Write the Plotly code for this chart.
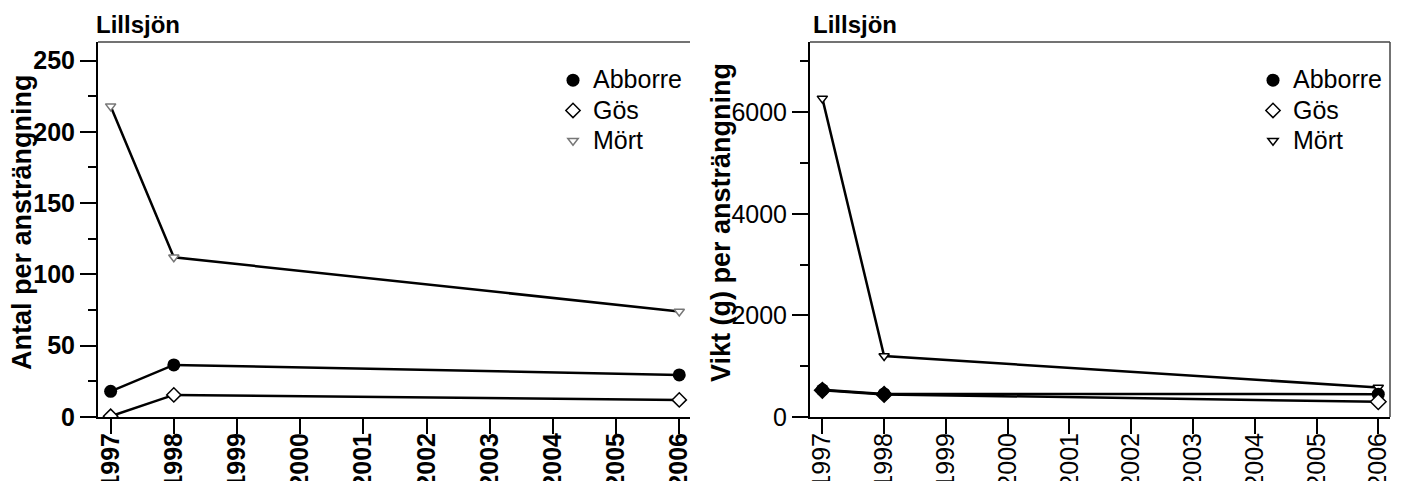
import plotly.graph_objects as go

years = [1997, 1998, 2006]
lake = "Lillsjön"
species = ["Abborre", "Gös", "Mört"]

# Antal per ansträngning
antal_abborre = [18, 36.5, 29.5]
antal_gos = [0.5, 15.5, 12]
antal_mort = [218, 112, 74]

# Vikt (g) per ansträngning
vikt_abborre = [535, 455, 450]
vikt_gos = [525, 445, 300]
vikt_mort = [6270, 1200, 580]

W, H = 1402, 481
FONT = "Liberation Sans"
LW = 2.5

def px_x(p):
    return p / W

def px_y(p):
    return 1 - p / H

fig = go.Figure()

# ---------- left panel ----------
fig.add_trace(go.Scatter(x=years, y=antal_mort, mode="lines+markers", xaxis="x", yaxis="y",
                         line=dict(color="black", width=LW), showlegend=False,
                         marker=dict(symbol="triangle-down", size=9, color="white",
                                     line=dict(color="#777777", width=1.5))))
fig.add_trace(go.Scatter(x=years, y=antal_gos, mode="lines+markers", xaxis="x", yaxis="y",
                         line=dict(color="black", width=LW), showlegend=False,
                         marker=dict(symbol="diamond", size=11, color="white",
                                     line=dict(color="black", width=1.5))))
fig.add_trace(go.Scatter(x=years, y=antal_abborre, mode="lines+markers", xaxis="x", yaxis="y",
                         line=dict(color="black", width=LW), showlegend=False,
                         marker=dict(symbol="circle", size=13, color="black")))

# ---------- right panel ----------
fig.add_trace(go.Scatter(x=years, y=vikt_mort, mode="lines+markers", xaxis="x2", yaxis="y2",
                         line=dict(color="black", width=LW), showlegend=False,
                         marker=dict(symbol="triangle-down", size=9, color="white",
                                     line=dict(color="black", width=1.5))))
fig.add_trace(go.Scatter(x=years, y=vikt_abborre, mode="lines+markers", xaxis="x2", yaxis="y2",
                         line=dict(color="black", width=LW), showlegend=False,
                         marker=dict(symbol="circle", size=13, color="black")))
fig.add_trace(go.Scatter(x=years, y=vikt_gos, mode="lines+markers", xaxis="x2", yaxis="y2",
                         line=dict(color="black", width=LW), showlegend=False,
                         marker=dict(symbol="diamond", size=12, color=["black", "black", "white"],
                                     line=dict(color="black", width=1.5))))

# ---------- legend-only traces ----------
leg_styles = [
    dict(symbol="circle", size=13, color="black"),
    dict(symbol="diamond", size=11, color="white", line=dict(color="black", width=1.5)),
]
def leg_name(s):
    return '<span style="font-size:25px">' + s + '</span>'

for legname, mcol, xa, ya in [("legend", "#777777", "x", "y"), ("legend2", "black", "x2", "y2")]:
    for name, st in zip(species[:2], leg_styles):
        fig.add_trace(go.Scatter(x=[None], y=[None], mode="markers", name=leg_name(name), marker=st,
                                 xaxis=xa, yaxis=ya, legend=legname))
    fig.add_trace(go.Scatter(x=[None], y=[None], mode="markers", name=leg_name(species[2]),
                             xaxis=xa, yaxis=ya, legend=legname,
                             marker=dict(symbol="triangle-down", size=9, color="white",
                                         line=dict(color=mcol, width=1.5))))

top, bottom = 42, 417
axis_common = dict(showline=True, linewidth=2, linecolor="black", showgrid=False, zeroline=False,
                   ticks="outside", tickcolor="black", tickwidth=2, automargin=False)

TICK = 25
bold_t = dict(family=FONT, size=TICK, color="black", weight="bold")
norm_t = dict(family=FONT, size=TICK, color="black")
leg_font = dict(family=FONT, size=21, color="black")

xtick_common = dict(tickmode="linear", tick0=1997, dtick=1, ticklen=15, tickangle=-90,
                    ticklabelstandoff=-11)

fig.update_layout(
    template="none",
    width=W, height=H,
    margin=dict(l=0, r=0, t=0, b=0, pad=0, autoexpand=False),
    paper_bgcolor="white", plot_bgcolor="white",
    font=dict(family=FONT, color="black"),
    xaxis=dict(domain=[px_x(98), px_x(690)], range=[1996.8, 2006.17], anchor="y",
               tickfont=bold_t, **xtick_common, **axis_common),
    yaxis=dict(domain=[px_y(bottom), px_y(top)], range=[0, 263], anchor="x",
               tickmode="linear", tick0=0, dtick=50, ticklen=16, tickfont=bold_t,
               minor=dict(dtick=25, ticklen=8, tickwidth=2, tickcolor="black", ticks="outside", showgrid=False),
               **axis_common),
    xaxis2=dict(domain=[px_x(810), px_x(1390)], range=[1996.8, 2006.19], anchor="y2",
                tickfont=norm_t, **xtick_common, **axis_common),
    yaxis2=dict(domain=[px_y(bottom), px_y(top)], range=[0, 7380], anchor="x2",
                tickmode="linear", tick0=0, dtick=2000, ticklen=16, tickfont=norm_t,
                minor=dict(dtick=1000, ticklen=8, tickwidth=2, tickcolor="black", ticks="outside", showgrid=False),
                **axis_common),
    legend=dict(x=px_x(553), y=px_y(60), xanchor="left", yanchor="top", bgcolor="rgba(0,0,0,0)",
                font=leg_font, itemsizing="trace", tracegroupgap=0, borderwidth=0),
    legend2=dict(x=px_x(1253), y=px_y(60), xanchor="left", yanchor="top", bgcolor="rgba(0,0,0,0)",
                 font=leg_font, itemsizing="trace", tracegroupgap=0, borderwidth=0),
    shapes=[
        dict(type="line", xref="x domain", yref="y domain", x0=0, x1=1, y0=1, y1=1,
             line=dict(color="#444444", width=1.5)),
        dict(type="line", xref="x2 domain", yref="y2 domain", x0=0, x1=1, y0=1, y1=1,
             line=dict(color="#444444", width=1.5)),
        dict(type="line", xref="x2 domain", yref="y2 domain", x0=1, x1=1, y0=0, y1=1,
             line=dict(color="#444444", width=1.5)),
    ],
    annotations=[
        dict(text=lake, xref="paper", yref="paper", x=px_x(94), y=px_y(25), xanchor="left",
             yanchor="middle", showarrow=False, font=dict(family=FONT, size=24, color="black", weight="bold")),
        dict(text=lake, xref="paper", yref="paper", x=px_x(811), y=px_y(25), xanchor="left",
             yanchor="middle", showarrow=False, font=dict(family=FONT, size=24, color="black", weight="bold")),
        dict(text="Antal per ansträngning", xref="paper", yref="paper", x=px_x(22), y=px_y(222),
             xanchor="center", yanchor="middle", textangle=-90, showarrow=False,
             font=dict(family=FONT, size=27, color="black", weight="bold")),
        dict(text="Vikt (g) per ansträngning", xref="paper", yref="paper", x=px_x(721), y=px_y(222),
             xanchor="center", yanchor="middle", textangle=-90, showarrow=False,
             font=dict(family=FONT, size=27, color="black", weight="bold")),
    ],
)

fig.write_html("out.html")
